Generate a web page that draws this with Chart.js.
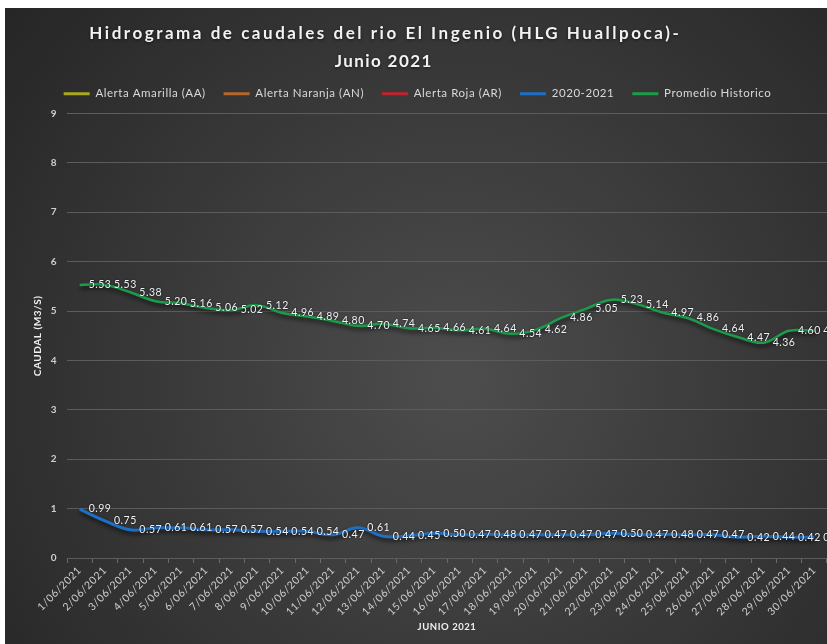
<!DOCTYPE html>
<html><head><meta charset="utf-8">
<script src="https://cdn.jsdelivr.net/npm/chart.js@4.4.1/dist/chart.umd.min.js"></script>
<style>
html,body{margin:0;padding:0;background:#fff;width:827px;height:644px;overflow:hidden;}
#wrap{position:absolute;left:5px;top:8px;width:822px;height:636px;}
</style></head><body>
<div id="wrap"><canvas id="c"></canvas></div>
<script>
const titleLines = ['Hidrograma de caudales del rio El Ingenio (HLG Huallpoca)-', 'Junio 2021'];
const categories = ['1/06/2021','2/06/2021','3/06/2021','4/06/2021','5/06/2021','6/06/2021','7/06/2021','8/06/2021','9/06/2021','10/06/2021',
  '11/06/2021','12/06/2021','13/06/2021','14/06/2021','15/06/2021','16/06/2021','17/06/2021','18/06/2021','19/06/2021','20/06/2021',
  '21/06/2021','22/06/2021','23/06/2021','24/06/2021','25/06/2021','26/06/2021','27/06/2021','28/06/2021','29/06/2021','30/06/2021'];
const alertaAmarilla = [];
const alertaNaranja = [];
const alertaRoja = [];
const serie2020_2021 = [0.99,0.75,0.57,0.61,0.61,0.57,0.57,0.54,0.54,0.54,0.47,0.61,0.44,0.45,0.50,0.47,0.48,0.47,0.47,0.47,0.47,0.50,0.47,0.48,0.47,0.47,0.42,0.44,0.42,0.42];
const promedioHistorico = [5.53,5.53,5.38,5.20,5.16,5.06,5.02,5.12,4.96,4.89,4.80,4.70,4.74,4.65,4.66,4.61,4.64,4.54,4.62,4.86,5.05,5.23,5.14,4.97,4.86,4.64,4.47,4.36,4.60,4.60];
const yTicks = [0,1,2,3,4,5,6,7,8,9];

const spacingPlugin = {
  id:'spacing',
  beforeUpdate(chart){ chart.ctx.letterSpacing = '0.55px'; },
  beforeLayout(chart){
    chart.ctx.letterSpacing = '0.55px';
    const lg = chart.legend;
    if (lg && !lg._patched){
      const orig = lg.fit;
      lg.fit = function(){ orig.call(this); this.height += 4; };
      lg._patched = true;
    }
  },
  beforeDraw(chart){ chart.ctx.letterSpacing = '0.55px'; }
};
const bgPlugin = {
  id:'bg',
  beforeDraw(chart){
    const c = chart.ctx, w = chart.width, h = chart.height;
    c.save();
    const g = c.createRadialGradient(w*0.55, h*0.58, 0, w*0.55, h*0.58, w*0.72);
    g.addColorStop(0, '#4d4d4d');
    g.addColorStop(1, '#252525');
    c.fillStyle = g;
    c.fillRect(0,0,w,h);
    c.restore();
  }
};
function fitText(c, text, x, y, target){
  c.letterSpacing = '0px';
  const w0 = c.measureText(text).width;
  const sp = (target - w0) / text.length;
  c.letterSpacing = sp + 'px';
  c.fillText(text, x + sp/2, y);
}
const titlePlugin = {
  id:'customTitle',
  afterDraw(chart){
    const c = chart.ctx;
    c.save();
    c.fillStyle = '#f2f2f2';
    c.font = 'bold 17px Lato';
    c.textAlign = 'center';
    c.textBaseline = 'middle';
    c.shadowColor = 'rgba(0,0,0,0.6)'; c.shadowBlur = 3; c.shadowOffsetY = 1;
    fitText(c, titleLines[0], 379, 26, 592);
    fitText(c, titleLines[1], 378, 54, 98);
    c.restore();
  }
};
const shadowPlugin = {
  id:'lineShadow',
  beforeDatasetsDraw(chart){
    const c = chart.ctx; c.save();
    c.shadowColor = 'rgba(0,0,0,0.65)'; c.shadowBlur = 4; c.shadowOffsetX = 1; c.shadowOffsetY = 3;
  },
  afterDatasetsDraw(chart){ chart.ctx.restore(); }
};
const labelsPlugin = {
  id:'valueLabels',
  afterDatasetsDraw(chart){
    const c = chart.ctx;
    c.save();
    c.font = '10.5px Lato';
    c.letterSpacing = '0.5px';
    c.fillStyle = '#eef2f6';
    c.textAlign = 'left';
    c.textBaseline = 'middle';
    c.shadowColor = 'rgba(0,0,0,0.8)'; c.shadowBlur = 2;
    [3,4].forEach(di => {
      const meta = chart.getDatasetMeta(di);
      const ds = chart.data.datasets[di].data;
      meta.data.forEach((pt, i) => {
        c.fillText(ds[i].toFixed(2), pt.x + 9, pt.y);
      });
    });
    c.restore();
  }
};

new Chart(document.getElementById('c'), {
  type:'line',
  data:{
    labels: categories,
    datasets:[
      {label:'Alerta Amarilla (AA)', data:alertaAmarilla, borderColor:'#aaa91d', backgroundColor:'#aaa91d', borderWidth:2.5},
      {label:'Alerta Naranja (AN)', data:alertaNaranja, borderColor:'#b4662b', backgroundColor:'#b4662b', borderWidth:2.5},
      {label:'Alerta Roja (AR)', data:alertaRoja, borderColor:'#c0232b', backgroundColor:'#c0232b', borderWidth:2.5},
      {label:'2020-2021', data:serie2020_2021, borderColor:'#1e6fc6', backgroundColor:'#1e6fc6', borderWidth:3, tension:0.4},
      {label:'Promedio Historico', data:promedioHistorico, borderColor:'#1c9c4a', backgroundColor:'#1c9c4a', borderWidth:2.5, tension:0.4}
    ]
  },
  options:{
    responsive:true, maintainAspectRatio:false, animation:false,
    layout:{padding:{top:62,left:0,right:-3,bottom:0}},
    elements:{point:{radius:0,hoverRadius:0}},
    plugins:{
      title:{display:false},
      tooltip:{enabled:false},
      legend:{
        position:'top',
        labels:{
          color:'#d9d9d9', font:{family:'Lato', size:11.5}, boxWidth:26, boxHeight:3, padding:18,
          generateLabels(chart){
            return Chart.defaults.plugins.legend.labels.generateLabels(chart).map(l => Object.assign(l,{lineWidth:0}));
          }
        }
      }
    },
    scales:{
      x:{
        offset:true,
        grid:{display:true, drawOnChartArea:false, drawTicks:true, tickLength:5, color:'#6a6a6a', offset:true},
        border:{display:false},
        ticks:{color:'#cfcfcf', font:{family:'Lato', size:10.5}, minRotation:45, maxRotation:45, autoSkip:false, padding:1},
        title:{display:true, text:'JUNIO 2021', color:'#f0f0f0', font:{family:'Lato', size:9.5, weight:'bold'}, padding:{top:4, bottom:11}},
        afterFit(s){ s.height = 86; }
      },
      y:{
        min:0, max:9,
        afterBuildTicks(s){ s.ticks = yTicks.map(v => ({value:v})); },
        ticks:{color:'#cfcfcf', font:{family:'Lato', size:10, weight:'bold'}, padding:10},
        grid:{color:'#5c5c5c', lineWidth:1, drawTicks:false},
        border:{display:false},
        title:{display:true, text:'CAUDAL (M3/S)', color:'#f0f0f0', font:{family:'Lato', size:10, weight:'bold'}, padding:{top:27, bottom:0}},
        afterFit(s){ s.width = 62; }
      }
    }
  },
  plugins:[spacingPlugin, bgPlugin, shadowPlugin, labelsPlugin, titlePlugin]
});
</script>
</body></html>
